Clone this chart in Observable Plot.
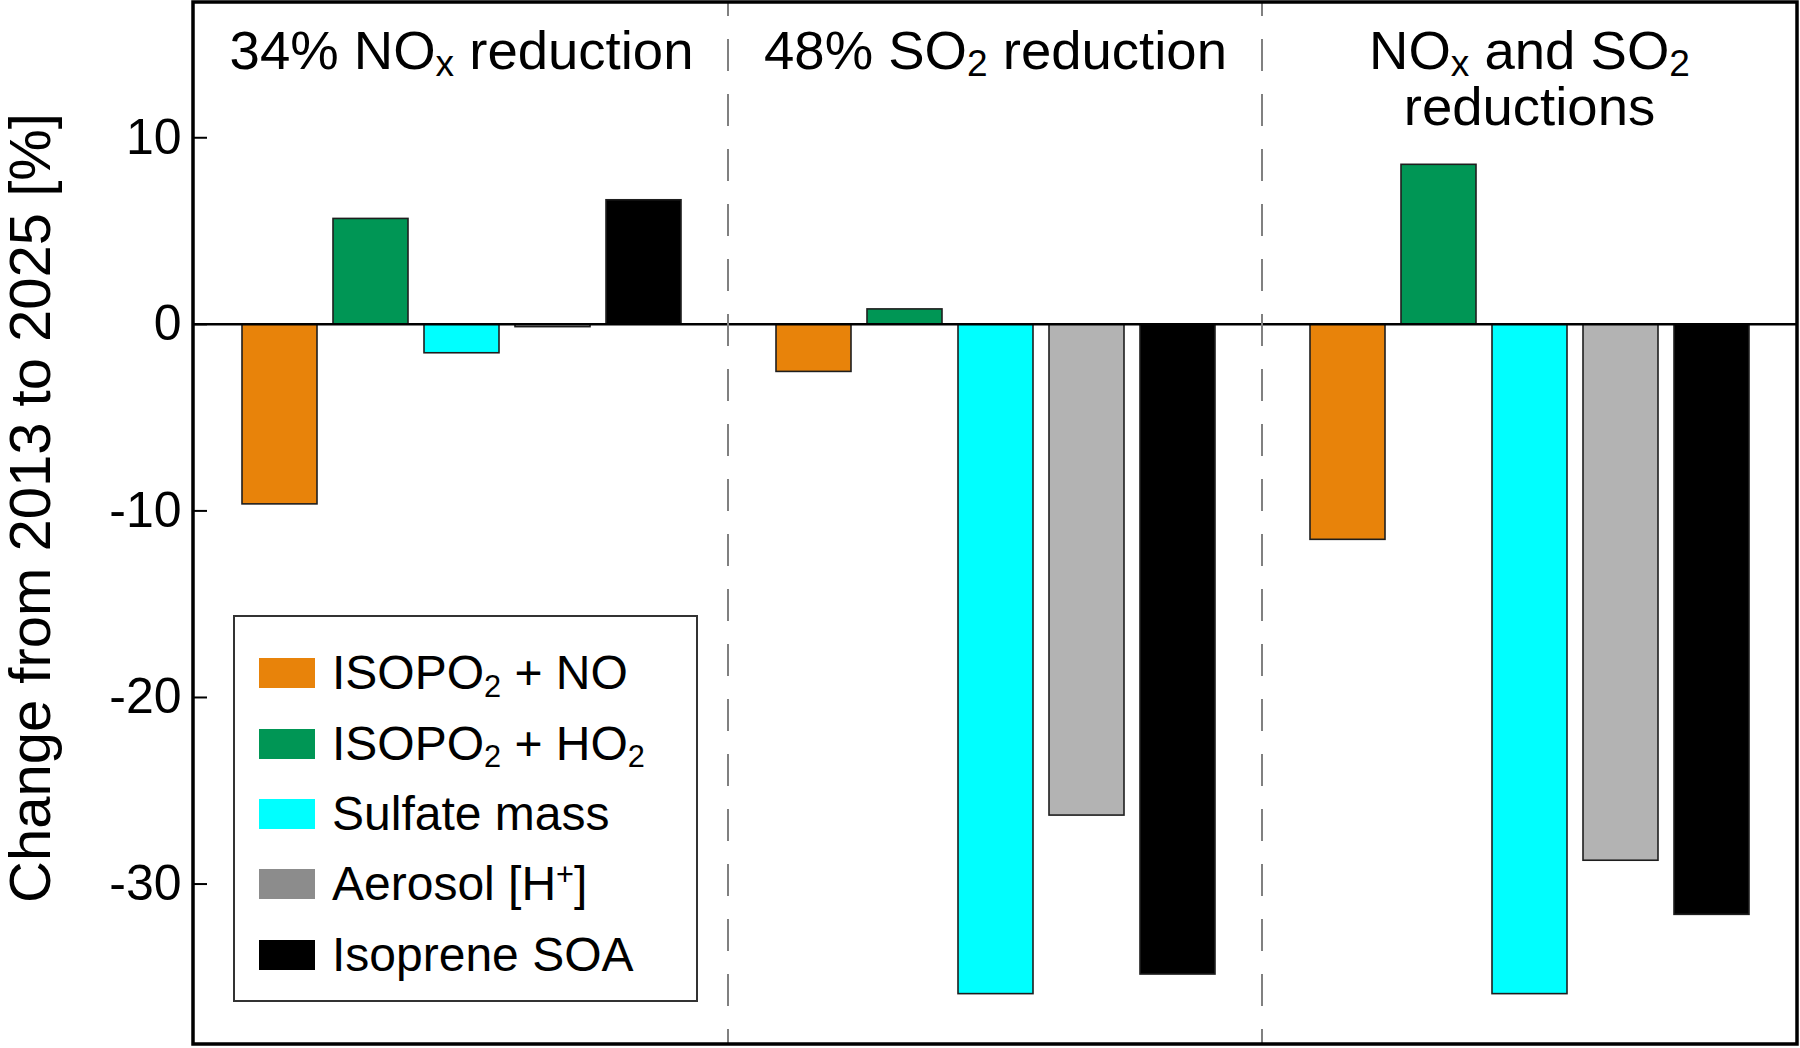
<!DOCTYPE html>
<html>
<head>
<meta charset="utf-8">
<script src="https://cdn.jsdelivr.net/npm/d3@7"></script>
<script src="https://cdn.jsdelivr.net/npm/@observablehq/plot@0.6"></script>
<style>
  html, body { margin: 0; padding: 0; background: #fff; }
  #wrap { position: relative; width: 1800px; height: 1048px; font-family: "Liberation Sans", Arial, sans-serif; }
  #legend { position: absolute; left: 233px; top: 615px; width: 465px; height: 387px; box-sizing: border-box;
            border: 2px solid #333; background: #fff; padding-top: 21px; }
  .row { display: flex; align-items: center; height: 70.4px; }
  .sw { width: 56px; height: 30px; margin-left: 24px; margin-right: 17px; flex: none; }
  .lab { font-size: 48px; color: #000; white-space: nowrap; line-height: 1; }
  .lab sub { font-size: 0.64em; vertical-align: baseline; position: relative; top: 0.25em; }
  .lab sup { font-size: 0.64em; vertical-align: baseline; position: relative; top: -0.5em; }
</style>
</head>
<body>
<div id="wrap"></div>
<script>
(function () {
// ---- data ----
const groups = ["34% NO_x reduction", "48% SO_2 reduction", "NO_x and SO_2\nreductions"];
const series = ["ISOPO_2 + NO", "ISOPO_2 + HO_2", "Sulfate mass", "Aerosol [H^+]", "Isoprene SOA"];
const noxReduction  = [-9.65, 5.65, -1.55, -0.15, 6.65];
const so2Reduction  = [-2.55, 0.8, -35.9, -26.33, -34.85];
const bothReduction = [-11.55, 8.55, -35.9, -28.75, -31.65];
const yTicks = [-30, -20, -10, 0, 10];
const yLabel = "Change from 2013 to 2025 [%]";

const barColors    = ["#e8830a", "#009655", "#00ffff", "#b3b3b3", "#000000"];
const legendColors = ["#e8830a", "#009655", "#00ffff", "#8c8c8c", "#000000"];

// ---- table built from the arrays ----
const groupValues = [noxReduction, so2Reduction, bothReduction];
const table = groups.flatMap((g, i) => series.map((s, j) => ({group: g, series: s, value: groupValues[i][j]})));
const labelTable = groups.map(g => ({group: g}));

const FONT = '"Liberation Sans", Arial, sans-serif';
const W = 1800, H = 1048, ML = 193, MR = 3, MT = 2, MB = 4;

const plot = Plot.plot({
  width: W,
  height: H,
  marginLeft: ML,
  marginRight: MR,
  marginTop: MT,
  marginBottom: MB,
  style: {fontFamily: FONT, background: "white", overflow: "visible", color: "#000"},
  fx: {domain: groups, paddingInner: 0, paddingOuter: 0, axis: null, label: null},
  x: {domain: series, paddingInner: 0.18, paddingOuter: 0.51, axis: null, label: null},
  y: {domain: [-38.6, 17.25], label: null},
  color: {domain: series, range: barColors},
  marks: [
    Plot.barY(table, {fx: "group", x: "series", y: "value", fill: "series", stroke: "#1e1e1e", strokeWidth: 1.6}),
    Plot.ruleY([0], {stroke: "#000", strokeWidth: 2.5}),
    Plot.text(labelTable, {fx: "group", text: "group", frameAnchor: "top", lineAnchor: "top", dy: 32,
                           fontSize: 54.5, lineHeight: 0.9, fill: "#000"}),
    Plot.axisY(yTicks, {anchor: "left", tickSize: 0, tickPadding: 13, fontSize: 50, label: null, fill: "#000",
                        tickFormat: d => String(d)}),
    Plot.axisY(yTicks, {anchor: "left", tickSize: 13, dx: 13, tickFormat: () => "", label: null, strokeWidth: 2, stroke: "#000"})
  ]
});

// subscripts in the panel labels: "_c" -> subscript c
function subscriptify(root) {
  const leaves = Array.from(root.querySelectorAll("text, tspan")).filter(el =>
    el.children.length === 0 && el.textContent.includes("_"));
  for (const el of leaves) {
    const fs = parseFloat(getComputedStyle(el).fontSize) || 54;
    const parts = el.textContent.split(/_(\w)/);
    el.textContent = "";
    const shift = fs * 0.13;
    let pending = 0;
    parts.forEach((p, k) => {
      if (!p) return;
      const t = document.createElementNS("http://www.w3.org/2000/svg", "tspan");
      t.textContent = p;
      if (k % 2 === 1) {
        t.setAttribute("font-size", fs * 0.68);
        t.setAttribute("dy", shift);
        pending = -shift;
      } else if (pending) {
        t.setAttribute("dy", pending);
        pending = 0;
      }
      el.appendChild(t);
    });
  }
}

document.getElementById("wrap").appendChild(plot);
subscriptify(plot);

// dividers between scenario panels and the outer frame, placed through the fx scale
const svg = d3.select(plot);
const fxs = plot.scale("fx");
const fxApply = fxs.apply ? (v => fxs.apply(v)) :
  d3.scaleBand().domain(fxs.domain).range(fxs.range).paddingInner(fxs.paddingInner || 0).paddingOuter(fxs.paddingOuter || 0);
const y0 = MT, y1 = H - MB, x0 = ML, x1 = W - MR;
groups.slice(1).forEach(g => {
  const x = fxApply(g);
  svg.append("line").attr("x1", x).attr("x2", x).attr("y1", y0).attr("y2", y1)
    .attr("stroke", "#808080").attr("stroke-width", 2).attr("stroke-dasharray", "32,23").attr("stroke-dashoffset", 18);
});
svg.append("rect").attr("x", x0).attr("y", y0).attr("width", x1 - x0).attr("height", y1 - y0)
  .attr("fill", "none").attr("stroke", "#000").attr("stroke-width", 3.5);
svg.append("text").attr("transform", "translate(50,508) rotate(-90)").attr("text-anchor", "middle")
  .attr("font-size", 58).attr("fill", "#000").attr("font-family", FONT).text(yLabel);

// legend
const toHTML = s => s.replace(/_(\w)/g, "<sub>$1</sub>").replace(/\^(.)/g, "<sup>$1</sup>");
const legend = document.createElement("div");
legend.id = "legend";
legend.innerHTML = series.map((s, i) =>
  `<div class="row"><div class="sw" style="background:${legendColors[i]}"></div><div class="lab">${toHTML(s)}</div></div>`).join("");
document.getElementById("wrap").appendChild(legend);
})();
</script>
</body>
</html>
